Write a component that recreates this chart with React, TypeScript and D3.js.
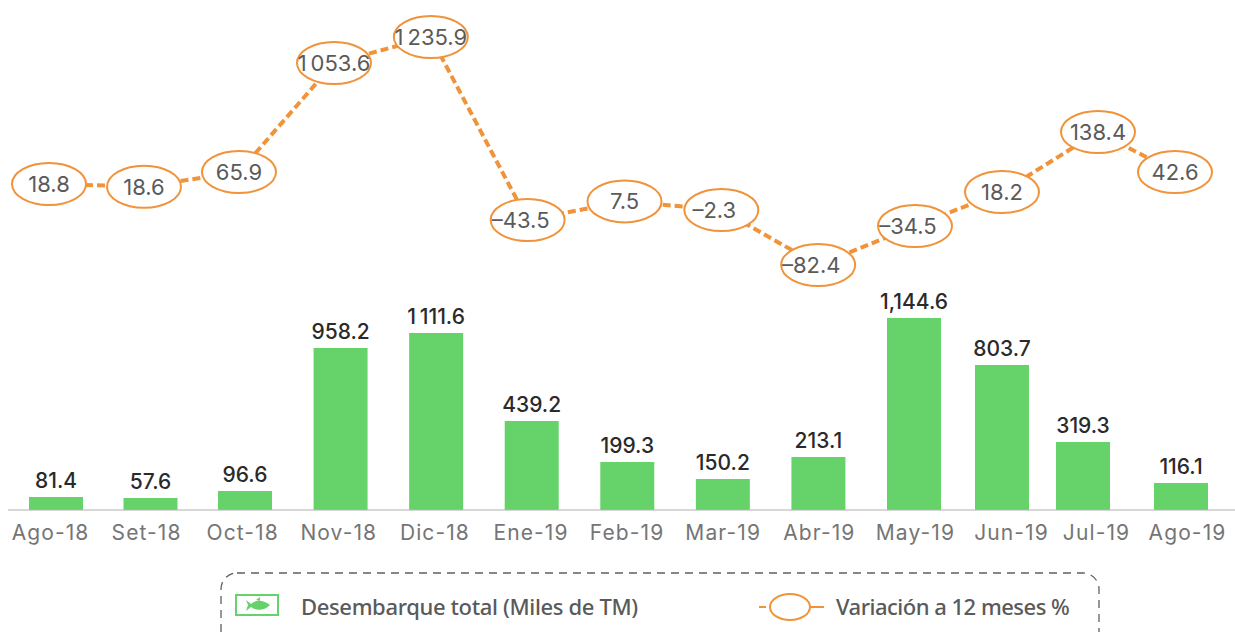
import React, { useEffect, useRef } from 'react';
import * as d3 from 'd3';

const months = ['Ago-18', 'Set-18', 'Oct-18', 'Nov-18', 'Dic-18', 'Ene-19', 'Feb-19', 'Mar-19', 'Abr-19', 'May-19', 'Jun-19', 'Jul-19', 'Ago-19'];
const landings = [81.4, 57.6, 96.6, 958.2, 1111.6, 439.2, 199.3, 150.2, 213.1, 1144.6, 803.7, 319.3, 116.1];
const landingLabels = ['81.4', '57.6', '96.6', '958.2', '1\u2009111.6', '439.2', '199.3', '150.2', '213.1', '1,144.6', '803.7', '319.3', '116.1'];
const variation = [18.8, 18.6, 65.9, 1053.6, 1235.9, -43.5, 7.5, -2.3, -82.4, -34.5, 18.2, 138.4, 42.6];
const variationLabels = ['18.8', '18.6', '65.9', '1\u2009053.6', '1\u2009235.9', '\u201343.5', '7.5', '\u20132.3', '\u201382.4', '\u201334.5', '18.2', '138.4', '42.6'];

const width = 1235;
const height = 632;
const baseline = 510;
const orange = '#F0933A';
const green = '#66D36A';
const grey = '#5a5a5a';
const bodyFont = 'Inter, sans-serif';

const App = () => {
    const ref = useRef<SVGSVGElement>(null);

    useEffect(() => {
        const svg = d3.select(ref.current);
        svg.selectAll('*').remove();

        // the source chart is hand placed, neither axis is proportional, so the scales are piecewise
        const xBar = d3.scaleLinear().domain([0, 2, 9, 10, 11, 12]).range([56, 245, 914, 1002, 1083, 1181]);
        const xLabel = d3.scaleLinear().domain([0, 10, 11, 12]).range([50, 1011, 1096, 1187]);
        const xLine = d3.scaleLinear().domain([0, 3, 9, 10, 11, 12]).range([49, 334, 915, 1002, 1098, 1175]);

        const yBar = d3.scaleLinear()
            .domain([0, 57.6, 81.4, 96.6, 116.1, 150.2, 199.3, 213.1, 319.3, 439.2, 803.7, 958.2, 1111.6, 1144.6])
            .range([baseline, 498, 497, 491, 483, 479, 462, 457, 442, 421, 365, 348, 333, 318]);
        const yLine = d3.scaleLinear()
            .domain([-82.4, -43.5, -34.5, -2.3, 18.2, 18.8, 42.6, 65.9, 138.4, 1053.6, 1235.9])
            .range([265, 220, 226, 210, 192, 184, 172, 172, 132, 63, 37]);

        svg.append('g')
            .selectAll('rect')
            .data(landings)
            .join('rect')
            .attr('x', (d, i) => xBar(i) - 27)
            .attr('y', d => yBar(d))
            .attr('width', 54)
            .attr('height', d => baseline - yBar(d))
            .attr('fill', green);

        svg.append('g')
            .selectAll('text')
            .data(landings)
            .join('text')
            .attr('x', (d, i) => xBar(i))
            .attr('y', d => yBar(d) - 9)
            .attr('text-anchor', 'middle')
            .attr('font-family', bodyFont)
            .attr('font-size', 21)
            .attr('font-weight', 500)
            .attr('fill', '#2a2a2a')
            .text((d, i) => landingLabels[i]);

        const axis = svg.append('g')
            .attr('transform', `translate(0,${baseline})`)
            .call(d3.axisBottom(xLabel).tickValues(d3.range(months.length)).tickSize(0).tickPadding(15).tickFormat(i => months[+i]));
        axis.select('.domain').remove();
        axis.selectAll('text')
            .attr('font-family', bodyFont)
            .attr('font-size', 21)
            .attr('letter-spacing', 1.1)
            .attr('fill', '#757575');
        svg.append('line')
            .attr('x1', 8).attr('x2', width)
            .attr('y1', baseline).attr('y2', baseline)
            .attr('stroke', '#b0b0b0')
            .attr('stroke-width', 1);

        const line = d3.line<number>()
            .x((d, i) => xLine(i))
            .y(d => yLine(d));
        svg.append('path')
            .attr('d', line(variation))
            .attr('fill', 'none')
            .attr('stroke', orange)
            .attr('stroke-width', 4)
            .attr('stroke-dasharray', '8 4');

        svg.append('g')
            .selectAll('ellipse')
            .data(variation)
            .join('ellipse')
            .attr('cx', (d, i) => xLine(i))
            .attr('cy', d => yLine(d))
            .attr('rx', 37)
            .attr('ry', 21)
            .attr('fill', '#fff')
            .attr('stroke', orange)
            .attr('stroke-width', 2);

        svg.append('g')
            .selectAll('text')
            .data(variation)
            .join('text')
            .attr('x', (d, i) => xLine(i) - (d < 0 ? 7 : 0))
            .attr('y', d => yLine(d) + 8)
            .attr('text-anchor', 'middle')
            .attr('font-family', bodyFont)
            .attr('font-size', 22)
            .attr('fill', grey)
            .text((d, i) => variationLabels[i]);

        // legend
        const legend = svg.append('g');
        legend.append('rect')
            .attr('x', 221).attr('y', 573)
            .attr('width', 878).attr('height', 80)
            .attr('rx', 16)
            .attr('fill', 'none')
            .attr('stroke', '#5f5f5f')
            .attr('stroke-width', 1.3)
            .attr('stroke-dasharray', '8 6');

        legend.append('rect')
            .attr('x', 236).attr('y', 595)
            .attr('width', 42).attr('height', 20)
            .attr('fill', '#fff')
            .attr('stroke', green)
            .attr('stroke-width', 2);
        // fish icon
        legend.append('path')
            .attr('d', 'M246 600 L251 604 C255 600 262 599 270 605 C264 611 256 611 251 607 L246 611 L248 605 Z M256 600 L260 597 L260 601 Z')
            .attr('fill', green);

        legend.append('text')
            .attr('x', 301).attr('y', 615)
            .attr('font-family', '"Noto Sans", sans-serif')
            .attr('font-size', 22)
            .attr('font-weight', 500)
            .attr('letter-spacing', -0.35)
            .attr('fill', grey)
            .text('Desembarque total (Miles de TM)');

        legend.append('line')
            .attr('x1', 759).attr('x2', 824)
            .attr('y1', 607).attr('y2', 607)
            .attr('stroke', orange)
            .attr('stroke-width', 2)
            .attr('stroke-dasharray', '7 44 14');
        legend.append('ellipse')
            .attr('cx', 790).attr('cy', 607)
            .attr('rx', 20).attr('ry', 13)
            .attr('fill', '#fff')
            .attr('stroke', orange)
            .attr('stroke-width', 2);
        legend.append('text')
            .attr('x', 836).attr('y', 615)
            .attr('font-family', '"Noto Sans", sans-serif')
            .attr('font-size', 22)
            .attr('font-weight', 500)
            .attr('letter-spacing', -0.5)
            .attr('fill', grey)
            .text('Variación a 12 meses %');
    }, []);

    return (
        <svg ref={ref} width={width} height={height} style={{ position: 'absolute', left: 0, top: 0, display: 'block' }} />
    );
};

export default App;
